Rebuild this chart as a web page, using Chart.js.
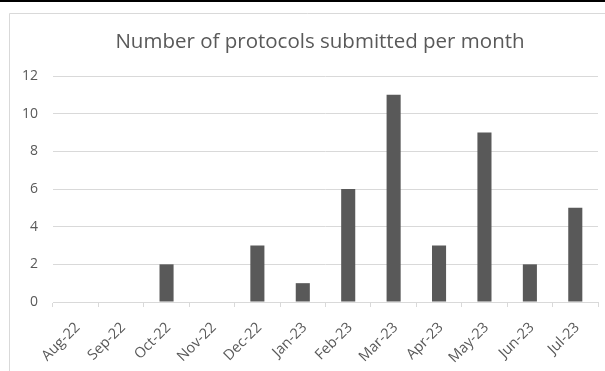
<!DOCTYPE html>
<html>
<head>
<meta charset="utf-8">
<script src="https://cdn.jsdelivr.net/npm/chart.js@4"></script>
<style>
  html, body { margin: 0; padding: 0; background: #ffffff; }
  #wrap { position: relative; width: 605px; height: 371px; }
  canvas { display: block; }
</style>
</head>
<body>
<div id="wrap"><canvas id="c" width="605" height="371"></canvas></div>
<script>
// Monthly protocol submissions
const months = ['Aug-22', 'Sep-22', 'Oct-22', 'Nov-22', 'Dec-22', 'Jan-23',
                'Feb-23', 'Mar-23', 'Apr-23', 'May-23', 'Jun-23', 'Jul-23'];
const submitted = [0, 0, 2, 0, 3, 1, 6, 11, 3, 9, 2, 5];
const yTicks = [0, 2, 4, 6, 8, 10, 12];
const chartTitle = 'Number of protocols submitted per month';

const FONT = "'Open Sans', 'Liberation Sans', sans-serif";
const TEXT = '#595959';
const GRID = '#d9d9d9';

// Page frame and heading drawn around the plot
const framePlugin = {
  id: 'frame',
  beforeDraw(chart) {
    const ctx = chart.ctx;
    ctx.save();
    ctx.fillStyle = '#ffffff';
    ctx.fillRect(0, 0, chart.width, chart.height);
    ctx.fillStyle = '#000000';
    ctx.fillRect(0, 0, chart.width, 2);
    ctx.strokeStyle = '#d9d9d9';
    ctx.lineWidth = 1;
    ctx.beginPath();
    ctx.moveTo(9.5, chart.height + 2);
    ctx.lineTo(9.5, 13.5);
    ctx.lineTo(chart.width + 2, 13.5);
    ctx.stroke();
    ctx.restore();
  },
  afterDraw(chart) {
    const ctx = chart.ctx;
    ctx.save();
    ctx.fillStyle = TEXT;
    ctx.font = "20.5px " + FONT;
    ctx.textAlign = 'center';
    ctx.textBaseline = 'middle';
    ctx.fillText(chartTitle, 320, 42);
    ctx.restore();
  }
};

new Chart(document.getElementById('c'), {
  type: 'bar',
  data: {
    labels: months,
    datasets: [{
      data: submitted,
      backgroundColor: '#595959',
      borderWidth: 0,
      barPercentage: 0.31,
      categoryPercentage: 1.0
    }]
  },
  options: {
    responsive: false,
    animation: false,
    devicePixelRatio: 1,
    layout: { padding: { top: 76, right: 7, bottom: 0, left: 0 } },
    plugins: {
      legend: { display: false },
      title: { display: false },
      tooltip: { enabled: false }
    },
    scales: {
      x: {
        grid: {
          display: true,
          drawOnChartArea: false,
          drawTicks: true,
          tickLength: 5,
          color: GRID,
          offset: true
        },
        border: { display: true, color: GRID, width: 1 },
        ticks: {
          color: TEXT,
          font: { family: FONT, size: 14.5 },
          minRotation: 45,
          maxRotation: 45,
          padding: 12,
          labelOffset: 2,
          autoSkip: false
        },
        afterFit(scale) { scale.height = 69; }
      },
      y: {
        min: 0,
        max: 12,
        afterBuildTicks(scale) { scale.ticks = yTicks.map(v => ({ value: v })); },
        grid: { color: GRID, lineWidth: 1, drawTicks: false },
        border: { display: false },
        ticks: {
          color: TEXT,
          font: { family: FONT, size: 14 },
          padding: 15
        },
        afterFit(scale) { scale.width = 53; }
      }
    }
  },
  plugins: [framePlugin]
});
</script>
</body>
</html>
